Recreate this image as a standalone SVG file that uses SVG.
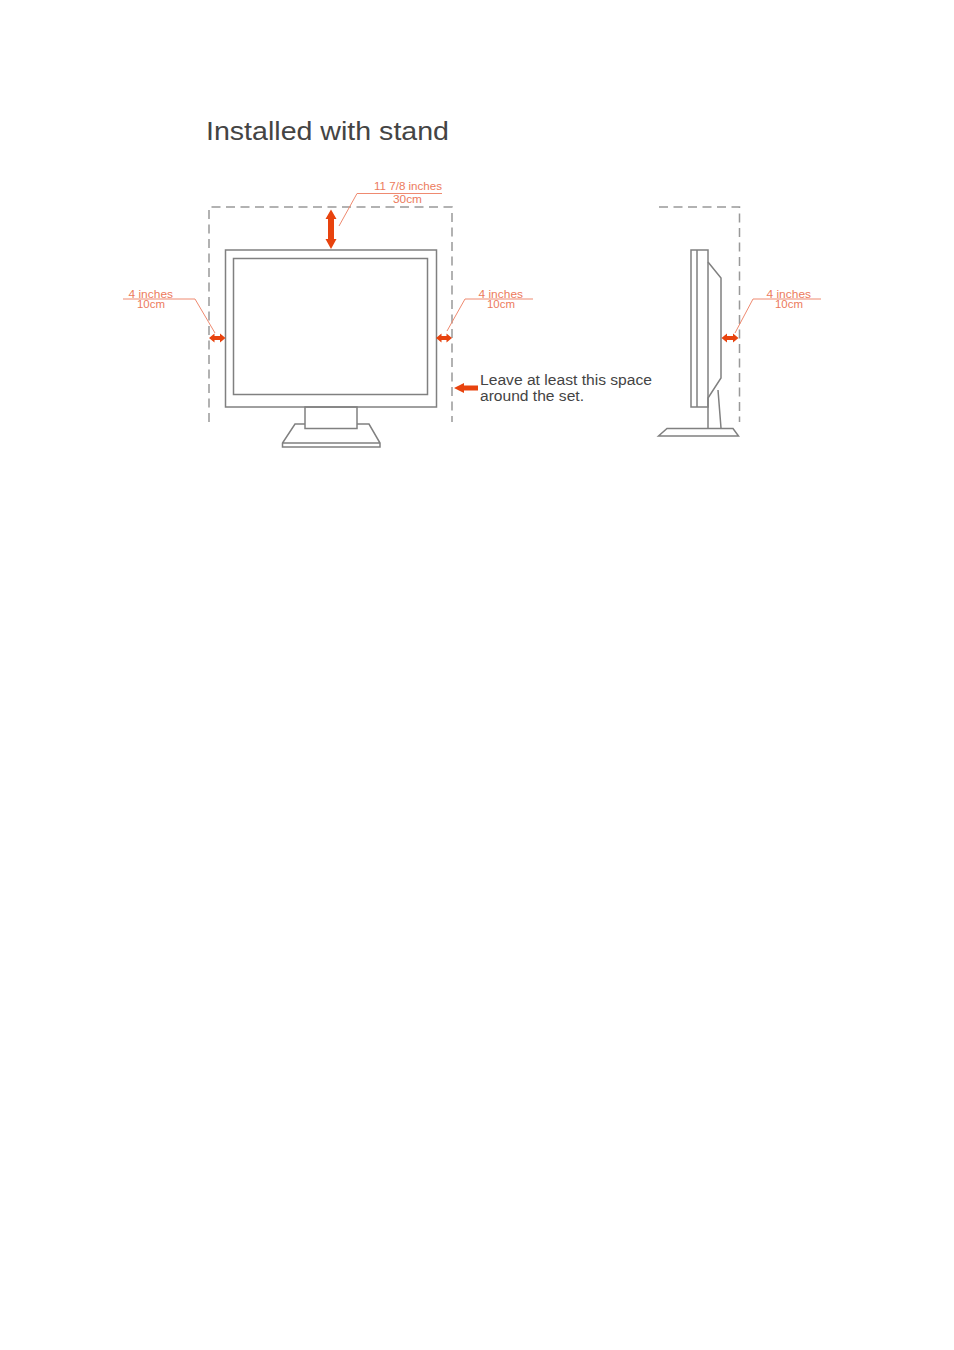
<svg xmlns="http://www.w3.org/2000/svg" width="954" height="1350" viewBox="0 0 954 1350">
<style>
text{font-family:"Liberation Sans",Arial,sans-serif}
.t{fill:#444}
.o{fill:#ec7a5c;font-size:10.500px}
.c{font-size:14px}
.s{fill:none;stroke:#808080;stroke-width:1.5}
.d{fill:none;stroke:#999;stroke-width:1.5;stroke-dasharray:9 5.5}
.l{fill:none;stroke:#ef8a70;stroke-width:1}
.a{fill:#e8430e}
</style>
<rect width="954" height="1350" fill="#fff"/>
<text id="title" class="t" x="206" y="140" font-size="25.500" textLength="243" lengthAdjust="spacingAndGlyphs">Installed with stand</text>
<g id="front-clearance"><path class="d" d="M209 422V207H452V422"/></g>
<g id="front-monitor">
<rect class="s" x="225.500" y="250" width="211" height="157"/>
<rect class="s" x="233.500" y="258.500" width="194" height="136"/>
<rect class="s" x="305" y="407" width="52" height="21.500"/>
<path class="s" d="M305 424H295L282.500 443V447H380V443L369 424H357M282.500 443H380"/>
</g>
<g id="side-clearance"><path class="d" d="M659 207H739.500V422"/></g>
<g id="side-monitor">
<rect class="s" x="691" y="250" width="17" height="157"/>
<path class="s" d="M697 250V407M708 262L721 278V378L708 398V428M718 390L721 428"/>
<path class="s" d="M658.500 436L667 428.500H733L738.500 436Z"/>
</g>
<g id="connectors">
<path class="l" d="M339 226L357 193.500H442"/>
<path class="l" d="M123 299H195L215 333"/>
<path class="l" d="M533 299H465L447 331"/>
<path class="l" d="M821 299H753L735 333"/>
<path class="a" d="M331 209.500L336.500 219H334V239H336.500L331 249L325.500 239H328V219H325.500Z"/>
<path class="a" d="M209 338L214.500 333.500V336H220V333.500L225.500 338L220 342.500V340H214.500V342.500Z"/>
<path class="a" d="M436 338L441.500 333.500V336H446.500V333.500L452 338L446.500 342.500V340H441.500V342.500Z"/>
<path class="a" d="M721.500 338L727 333.500V336H733V333.500L738.500 338L733 342.500V340H727V342.500Z"/>
<path class="a" d="M454 388L464 383V385.500H478V390.500H464V393Z"/>
</g>
<g id="labels">
<text class="o" x="374" y="190" textLength="68" lengthAdjust="spacingAndGlyphs">11 7/8 inches</text>
<text class="o" x="393" y="203" textLength="29" lengthAdjust="spacingAndGlyphs">30cm</text>
<text class="o" x="128.500" y="297.500" textLength="44.500" lengthAdjust="spacingAndGlyphs">4 inches</text>
<text class="o" x="137" y="308" textLength="28" lengthAdjust="spacingAndGlyphs">10cm</text>
<text class="o" x="478.500" y="297.500" textLength="44.500" lengthAdjust="spacingAndGlyphs">4 inches</text>
<text class="o" x="487" y="308" textLength="28" lengthAdjust="spacingAndGlyphs">10cm</text>
<text class="o" x="766.500" y="297.500" textLength="44.500" lengthAdjust="spacingAndGlyphs">4 inches</text>
<text class="o" x="775" y="308" textLength="28" lengthAdjust="spacingAndGlyphs">10cm</text>
<text class="t c" x="480" y="385" textLength="172" lengthAdjust="spacingAndGlyphs">Leave at least this space</text>
<text class="t c" x="480" y="401" textLength="104" lengthAdjust="spacingAndGlyphs">around the set.</text>
</g>
</svg>
